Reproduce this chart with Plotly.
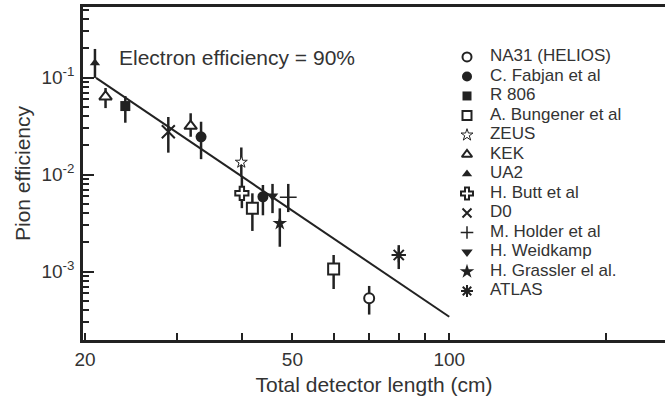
import plotly.graph_objects as go

# ---- data ----
legend_order = ["NA31 (HELIOS)", "C. Fabjan et al", "R 806", "A. Bungener et al", "ZEUS",
                "KEK", "UA2", "H. Butt et al", "D0", "M. Holder et al", "H. Weidkamp",
                "H. Grassler el al.", "ATLAS"]

na31_x = [70.2];        na31_y = [0.00053];          na31_hi = [0.00071];          na31_lo = [0.00036]
fabjan_x = [33.4, 43.9]; fabjan_y = [0.0245, 0.0059]; fabjan_hi = [0.035, 0.0078];  fabjan_lo = [0.0144, 0.0038]
r806_x = [23.9];        r806_y = [0.0508];           r806_hi = [0.0644];           r806_lo = [0.0342]
bung_x = [41.9, 60.0];  bung_y = [0.00448, 0.00106]; bung_hi = [0.0064, 0.00148];  bung_lo = [0.00262, 0.00066]
zeus_x = [39.9];        zeus_y = [0.0134];           zeus_hi = [0.019];            zeus_lo = [0.0095]
kek_x = [21.9, 31.9];   kek_y = [0.0634, 0.0316];    kek_hi = [0.078, 0.0428];     kek_lo = [0.0484, 0.0245]
ua2_x = [20.9];         ua2_y = [0.141];             ua2_hi = [0.197];             ua2_lo = [0.099]
butt_x = [40.0];        butt_y = [0.0064];           butt_hi = [0.0095];           butt_lo = [0.0045]
d0_x = [28.9];          d0_y = [0.0276];             d0_hi = [0.0392];             d0_lo = [0.0168]
holder_x = [49.1];      holder_y = [0.00582];        holder_hi = [0.0080];         holder_lo = [0.0041]
weid_x = [45.8];        weid_y = [0.0060];           weid_hi = [0.0080];           weid_lo = [0.0040]
grass_x = [47.3];       grass_y = [0.00314];         grass_hi = [0.00448];         grass_lo = [0.0018]
atlas_x = [80.0];       atlas_y = [0.00148];         atlas_hi = [0.00187];         atlas_lo = [0.00106]

fit_x = [21.0, 100.0]
fit_y = [0.099, 0.000342]

x_major = [20, 50, 100]
x_minor = [30, 40, 60, 70, 80, 90, 200]
y_major = [0.1, 0.01, 0.001]
y_major_text = ["10<sup>-1</sup>", "10<sup>-2</sup>", "10<sup>-3</sup>"]
y_minor = [m * d for d in (0.0001, 0.001, 0.01, 0.1) for m in range(2, 10)]

# ---- styling ----
INK = "#222222"
TXT = "#333333"
FONT = "Arial, Liberation Sans, sans-serif"

# name -> (x, y, hi, lo, symbol, fill, size, line width, legend size)
series = [
    ("NA31 (HELIOS)", na31_x, na31_y, na31_hi, na31_lo, "circle", "white", 10, 2, 9),
    ("C. Fabjan et al", fabjan_x, fabjan_y, fabjan_hi, fabjan_lo, "circle", INK, 11, 0, 10),
    ("R 806", r806_x, r806_y, r806_hi, r806_lo, "square", INK, 10, 0, 9),
    ("A. Bungener et al", bung_x, bung_y, bung_hi, bung_lo, "square", "white", 11, 2, 9),
    ("ZEUS", zeus_x, zeus_y, zeus_hi, zeus_lo, "star", "white", 9, 1, 9),
    ("KEK", kek_x, kek_y, kek_hi, kek_lo, "triangle-up", "white", 11, 2, 9),
    ("UA2", ua2_x, ua2_y, ua2_hi, ua2_lo, "triangle-up", INK, 9, 0, 9),
    ("H. Butt et al", butt_x, butt_y, butt_hi, butt_lo, "cross", "white", 11, 2, 10),
    ("D0", d0_x, d0_y, d0_hi, d0_lo, "x-thin-open", INK, 13, 2, 9),
    ("M. Holder et al", holder_x, holder_y, holder_hi, holder_lo, "cross-thin-open", INK, 12, 1.5, 9),
    ("H. Weidkamp", weid_x, weid_y, weid_hi, weid_lo, "triangle-down", INK, 10, 0, 10),
    ("H. Grassler el al.", grass_x, grass_y, grass_hi, grass_lo, "star", INK, 11, 0, 11),
    ("ATLAS", atlas_x, atlas_y, atlas_hi, atlas_lo, "asterisk-open", INK, 12, 2, 10),
]

fig = go.Figure()

fig.add_trace(go.Scatter(x=fit_x, y=fit_y, mode="lines", line=dict(color=INK, width=2),
                         showlegend=False, hoverinfo="skip"))

for name, xs, ys, hi, lo, sym, fill, size, lw, _ in series:
    up = [h - v for h, v in zip(hi, ys)]
    dn = [v - l for v, l in zip(ys, lo)]
    fig.add_trace(go.Scatter(
        x=xs, y=ys, mode="markers", name=name, showlegend=False,
        marker=dict(symbol=sym, size=size, color=fill, line=dict(color=INK, width=lw)),
        error_y=dict(type="data", symmetric=False, array=up, arrayminus=dn,
                     width=0, thickness=2.5, color=INK),
    ))

# legend drawn on its own small axes: one row per entry of legend_order
rows = list(range(len(legend_order)))
leg_sym = {s[0]: s for s in series}
for i, name in zip(rows, legend_order):
    _, _, _, _, _, sym, fill, size, lw, lsize = leg_sym[name]
    fig.add_trace(go.Scatter(
        x=[0], y=[i], mode="markers", xaxis="x2", yaxis="y2", showlegend=False,
        cliponaxis=False,
        marker=dict(symbol=sym, size=lsize, color=fill, line=dict(color=INK, width=lw)),
        hoverinfo="skip"))
fig.add_trace(go.Scatter(
    x=[1] * len(rows), y=rows, mode="text", text=legend_order, textposition="middle right",
    textfont=dict(size=17, color=TXT, family=FONT), xaxis="x2", yaxis="y2",
    cliponaxis=False, showlegend=False, hoverinfo="skip"))

fig.add_annotation(text="Electron efficiency = 90%", xref="paper", yref="paper",
                   x=0.058, y=0.847, xanchor="left", yanchor="middle", showarrow=False,
                   font=dict(size=21, color=TXT, family=FONT))

fig.update_layout(
    width=665, height=402,
    margin=dict(l=83, r=0, t=7, b=62),
    paper_bgcolor="white", plot_bgcolor="white",
    font=dict(family=FONT, color=TXT),
    showlegend=False,
    xaxis=dict(type="log", range=[1.2972, 2.414], automargin=False,
               tickmode="array", tickvals=x_major, ticktext=[str(v) for v in x_major],
               ticks="inside", ticklen=7, tickwidth=2, tickcolor=INK,
               minor=dict(tickmode="array", tickvals=x_minor, ticks="inside", ticklen=7,
                          tickwidth=2, tickcolor=INK, showgrid=False),
               showline=True, linecolor=INK, linewidth=2.5, mirror=True,
               showgrid=False, zeroline=False,
               tickfont=dict(size=19, color=TXT),
               title=dict(text="Total detector length (cm)", font=dict(size=21, color=TXT), standoff=9)),
    yaxis=dict(type="log", range=[-3.706, -0.273], automargin=False,
               tickmode="array", tickvals=y_major, ticktext=y_major_text,
               ticks="inside", ticklen=11, tickwidth=2, tickcolor=INK,
               minor=dict(tickmode="array", tickvals=y_minor, ticks="inside", ticklen=6,
                          tickwidth=2, tickcolor=INK, showgrid=False),
               showline=True, linecolor=INK, linewidth=2.5, mirror=False,
               showgrid=False, zeroline=False, ticklabelstandoff=2,
               tickfont=dict(size=19, color=TXT),
               title=dict(text="Pion efficiency", font=dict(size=21, color=TXT), standoff=6)),
    xaxis2=dict(domain=[0.6598, 0.6993], range=[0, 1], anchor="y2", visible=False, fixedrange=True),
    yaxis2=dict(domain=[0.1177, 0.8793], range=[12.5, -0.5], anchor="x2", visible=False, fixedrange=True),
)

fig.write_html("out.html", config={"displayModeBar": False},
               post_script="document.body.style.margin='0';document.body.style.overflow='hidden';")
